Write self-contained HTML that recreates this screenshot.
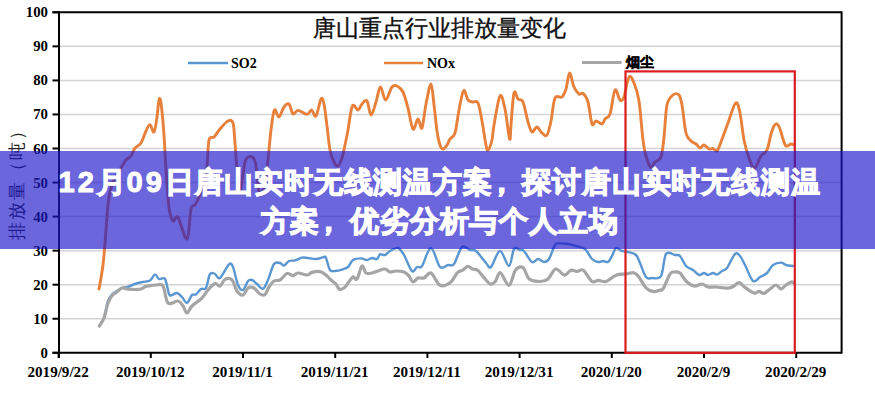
<!DOCTYPE html>
<html><head><meta charset="utf-8"><style>
html,body{margin:0;padding:0;width:875px;height:400px;overflow:hidden;background:#fff}
svg{position:absolute;left:0;top:0}
text{font-family:"Liberation Serif",serif;fill:#000}
.yl{font-size:14.8px;font-weight:bold;text-anchor:end;dominant-baseline:central}
.xl{font-size:15.1px;font-weight:bold;text-anchor:middle}
.title{font-size:23px;stroke:#111;stroke-width:0.35px;text-anchor:middle;dominant-baseline:central;fill:#111}
.ytitle{font-size:17.5px;stroke:#333;stroke-width:0px;letter-spacing:2px;text-anchor:middle;dominant-baseline:central;fill:#222}
.lg{font-size:14px;font-weight:bold;dominant-baseline:central}
.lgc{font-size:14px;stroke:#000;stroke-width:0.5px}
.banner{position:absolute;left:0;top:151px;width:875px;height:98px;background:rgba(30,23,202,0.66);display:flex;align-items:center;justify-content:center}
.banner div{font-family:"Liberation Sans",sans-serif;font-weight:bold;color:#fff;font-size:29px;line-height:38.8px;text-align:center;white-space:nowrap;width:875px;margin-left:4px;margin-top:3px;-webkit-text-stroke:1.2px #fff;letter-spacing:0.8px}
.banner .cm{position:relative;left:-6px}
.banner .d{-webkit-text-stroke:1.0px #fff;letter-spacing:3.0px}
</style></head><body>
<svg width="875" height="400" viewBox="0 0 875 400">
<line x1="60" y1="318.75" x2="841" y2="318.75" stroke="#d2d4d8" stroke-width="1.5"/>
<line x1="60" y1="284.70" x2="841" y2="284.70" stroke="#d2d4d8" stroke-width="1.5"/>
<line x1="60" y1="250.65" x2="841" y2="250.65" stroke="#d2d4d8" stroke-width="1.5"/>
<line x1="60" y1="216.60" x2="841" y2="216.60" stroke="#d2d4d8" stroke-width="1.5"/>
<line x1="60" y1="182.55" x2="841" y2="182.55" stroke="#d2d4d8" stroke-width="1.5"/>
<line x1="60" y1="148.50" x2="841" y2="148.50" stroke="#d2d4d8" stroke-width="1.5"/>
<line x1="60" y1="114.45" x2="841" y2="114.45" stroke="#d2d4d8" stroke-width="1.5"/>
<line x1="60" y1="80.40" x2="841" y2="80.40" stroke="#d2d4d8" stroke-width="1.5"/>
<line x1="60" y1="46.35" x2="841" y2="46.35" stroke="#d2d4d8" stroke-width="1.5"/>
<line x1="52.5" y1="352.80" x2="59" y2="352.80" stroke="#000" stroke-width="2"/>
<text x="48" y="352.80" class="yl">0</text>
<line x1="52.5" y1="318.75" x2="59" y2="318.75" stroke="#000" stroke-width="2"/>
<text x="48" y="318.75" class="yl">10</text>
<line x1="52.5" y1="284.70" x2="59" y2="284.70" stroke="#000" stroke-width="2"/>
<text x="48" y="284.70" class="yl">20</text>
<line x1="52.5" y1="250.65" x2="59" y2="250.65" stroke="#000" stroke-width="2"/>
<text x="48" y="250.65" class="yl">30</text>
<line x1="52.5" y1="216.60" x2="59" y2="216.60" stroke="#000" stroke-width="2"/>
<text x="48" y="216.60" class="yl">40</text>
<line x1="52.5" y1="182.55" x2="59" y2="182.55" stroke="#000" stroke-width="2"/>
<text x="48" y="182.55" class="yl">50</text>
<line x1="52.5" y1="148.50" x2="59" y2="148.50" stroke="#000" stroke-width="2"/>
<text x="48" y="148.50" class="yl">60</text>
<line x1="52.5" y1="114.45" x2="59" y2="114.45" stroke="#000" stroke-width="2"/>
<text x="48" y="114.45" class="yl">70</text>
<line x1="52.5" y1="80.40" x2="59" y2="80.40" stroke="#000" stroke-width="2"/>
<text x="48" y="80.40" class="yl">80</text>
<line x1="52.5" y1="46.35" x2="59" y2="46.35" stroke="#000" stroke-width="2"/>
<text x="48" y="46.35" class="yl">90</text>
<line x1="52.5" y1="12.30" x2="59" y2="12.30" stroke="#000" stroke-width="2"/>
<text x="48" y="12.30" class="yl">100</text>
<line x1="58.60" y1="352.8" x2="58.60" y2="358" stroke="#000" stroke-width="2"/>
<text x="58.10" y="377" class="xl">2019/9/22</text>
<line x1="150.80" y1="352.8" x2="150.80" y2="358" stroke="#000" stroke-width="2"/>
<text x="150.30" y="377" class="xl">2019/10/12</text>
<line x1="243.00" y1="352.8" x2="243.00" y2="358" stroke="#000" stroke-width="2"/>
<text x="242.50" y="377" class="xl">2019/11/1</text>
<line x1="335.20" y1="352.8" x2="335.20" y2="358" stroke="#000" stroke-width="2"/>
<text x="334.70" y="377" class="xl">2019/11/21</text>
<line x1="427.40" y1="352.8" x2="427.40" y2="358" stroke="#000" stroke-width="2"/>
<text x="426.90" y="377" class="xl">2019/12/11</text>
<line x1="519.60" y1="352.8" x2="519.60" y2="358" stroke="#000" stroke-width="2"/>
<text x="519.10" y="377" class="xl">2019/12/31</text>
<line x1="611.80" y1="352.8" x2="611.80" y2="358" stroke="#000" stroke-width="2"/>
<text x="611.30" y="377" class="xl">2020/1/20</text>
<line x1="704.00" y1="352.8" x2="704.00" y2="358" stroke="#000" stroke-width="2"/>
<text x="703.50" y="377" class="xl">2020/2/9</text>
<line x1="796.20" y1="352.8" x2="796.20" y2="358" stroke="#000" stroke-width="2"/>
<text x="795.70" y="377" class="xl">2020/2/29</text>
<path d="M52.5 12.30 H841.6 V352.80 H52.5" fill="none" stroke="#000" stroke-width="2"/>
<line x1="59" y1="11.30" x2="59" y2="358" stroke="#000" stroke-width="2"/>
<text x="439" y="28" class="title">唐山重点行业排放量变化</text>
<text transform="translate(16.5 180) rotate(-90)" class="ytitle">排放量（吨）</text>
<line x1="188" y1="63" x2="228" y2="63" stroke="#5a96d0" stroke-width="2.6"/>
<text x="231" y="63" class="lg">SO2</text>
<line x1="384" y1="63" x2="423" y2="63" stroke="#e6803a" stroke-width="2.5"/>
<text x="427" y="63" class="lg">NOx</text>
<line x1="582" y1="62.5" x2="621.5" y2="62.5" stroke="#a5a5a5" stroke-width="3.2"/>
<text x="626" y="62" class="lg lgc">烟尘</text>
<path d="M99.3 326.0 C100.1 324.7 102.5 322.2 104.0 318.0 C105.5 313.8 106.6 305.0 108.0 301.0 C109.4 297.0 111.0 295.7 112.5 294.0 C114.0 292.3 115.4 292.0 117.0 291.0 C118.6 290.0 120.2 288.7 122.0 288.0 C123.8 287.3 125.3 287.7 127.5 287.0 C129.7 286.3 132.5 284.8 135.0 284.0 C137.5 283.2 140.0 282.6 142.5 282.0 C145.0 281.4 147.9 281.8 150.0 280.5 C152.1 279.2 153.5 274.6 155.0 274.4 C156.5 274.1 157.3 278.2 159.0 279.0 C160.7 279.8 163.3 276.5 165.0 279.0 C166.7 281.5 167.8 291.3 169.0 294.0 C170.2 296.7 170.7 295.2 172.0 295.0 C173.3 294.8 175.3 292.7 177.0 293.0 C178.7 293.3 180.3 295.3 182.0 297.0 C183.7 298.7 185.3 303.3 187.0 303.0 C188.7 302.7 190.5 296.4 192.0 295.0 C193.5 293.6 194.5 295.4 196.0 294.4 C197.5 293.4 199.3 290.1 201.0 289.0 C202.7 287.9 204.5 290.5 206.0 288.0 C207.5 285.5 208.5 276.3 210.0 274.0 C211.5 271.7 213.3 273.3 215.0 274.0 C216.7 274.7 217.7 279.6 220.0 278.0 C222.3 276.4 226.8 266.2 229.0 264.4 C231.2 262.6 231.5 263.6 233.0 267.0 C234.5 270.4 236.3 281.2 238.0 285.0 C239.7 288.8 241.3 290.7 243.0 290.0 C244.7 289.3 246.5 282.7 248.0 281.0 C249.5 279.3 250.5 279.5 252.0 280.0 C253.5 280.5 255.5 282.7 257.0 284.0 C258.5 285.3 259.8 287.3 261.0 288.0 C262.2 288.7 262.8 289.3 264.0 288.0 C265.2 286.7 266.3 284.0 268.0 280.0 C269.7 276.0 272.0 266.8 274.0 264.0 C276.0 261.2 278.3 262.7 280.0 263.0 C281.7 263.3 282.5 265.9 284.0 265.6 C285.5 265.3 287.2 261.9 289.0 261.0 C290.8 260.1 292.8 261.0 295.0 260.4 C297.2 259.8 299.8 258.0 302.0 257.6 C304.2 257.2 305.7 257.8 308.0 258.0 C310.3 258.2 313.3 259.2 316.0 259.0 C318.7 258.8 322.3 257.2 324.0 257.0 C325.7 256.8 325.0 255.8 326.0 258.0 C327.0 260.2 328.5 267.8 330.0 270.0 C331.5 272.2 333.0 271.1 335.0 271.0 C337.0 270.9 339.8 270.3 342.0 269.6 C344.2 268.9 346.2 268.6 348.0 267.0 C349.8 265.4 350.8 261.4 353.0 260.0 C355.2 258.6 358.7 258.4 361.0 258.4 C363.3 258.4 365.2 260.1 367.0 260.0 C368.8 259.9 370.3 258.2 372.0 258.0 C373.7 257.8 375.7 259.6 377.0 259.0 C378.3 258.4 378.7 255.1 380.0 254.4 C381.3 253.7 383.3 255.6 385.0 255.0 C386.7 254.4 387.8 252.2 390.0 251.0 C392.2 249.8 395.7 247.3 398.0 248.0 C400.3 248.7 401.7 251.2 404.0 255.0 C406.3 258.8 409.8 269.0 412.0 271.0 C414.2 273.0 415.3 267.8 417.0 267.0 C418.7 266.2 419.7 269.2 422.0 266.0 C424.3 262.8 428.0 247.8 431.0 248.0 C434.0 248.2 437.2 264.2 440.0 267.0 C442.8 269.8 445.7 265.5 448.0 265.0 C450.3 264.5 451.7 267.0 454.0 264.0 C456.3 261.0 459.3 249.3 462.0 247.0 C464.7 244.7 467.7 249.3 470.0 250.0 C472.3 250.7 473.3 248.8 476.0 251.0 C478.7 253.2 483.5 260.3 486.0 263.0 C488.5 265.7 488.7 269.0 491.0 267.0 C493.3 265.0 497.0 251.2 500.0 251.0 C503.0 250.8 506.7 266.3 509.0 266.0 C511.3 265.7 512.2 251.7 514.0 249.0 C515.8 246.3 518.3 249.7 520.0 250.0 C521.7 250.3 522.0 249.0 524.0 251.0 C526.0 253.0 529.7 260.7 532.0 262.0 C534.3 263.3 536.0 259.0 538.0 259.0 C540.0 259.0 542.2 262.0 544.0 262.0 C545.8 262.0 547.2 261.8 549.0 259.0 C550.8 256.2 553.3 247.6 555.0 245.0 C556.7 242.4 556.8 243.6 559.0 243.4 C561.2 243.2 565.2 243.6 568.0 244.0 C570.8 244.4 573.2 245.2 576.0 246.0 C578.8 246.8 582.3 246.8 585.0 249.0 C587.7 251.2 589.8 256.8 592.0 259.0 C594.2 261.2 596.2 261.7 598.0 262.0 C599.8 262.3 601.3 261.0 603.0 261.0 C604.7 261.0 606.5 262.8 608.0 262.0 C609.5 261.2 610.7 258.3 612.0 256.0 C613.3 253.7 614.5 248.9 616.0 248.0 C617.5 247.1 619.0 249.9 621.0 250.6 C623.0 251.3 625.5 251.3 628.0 252.0 C630.5 252.7 634.0 253.2 636.0 255.0 C638.0 256.8 638.3 259.3 640.0 263.0 C641.7 266.7 644.0 274.5 646.0 277.0 C648.0 279.5 649.5 278.2 652.0 278.0 C654.5 277.8 658.7 280.0 661.0 276.0 C663.3 272.0 663.7 257.5 666.0 254.0 C668.3 250.5 672.7 254.7 675.0 255.0 C677.3 255.3 678.2 254.2 680.0 256.0 C681.8 257.8 683.8 263.7 686.0 266.0 C688.2 268.3 690.8 268.5 693.0 270.0 C695.2 271.5 697.2 274.5 699.0 275.0 C700.8 275.5 702.5 273.0 704.0 273.0 C705.5 273.0 706.5 275.0 708.0 275.0 C709.5 275.0 711.5 273.1 713.0 273.0 C714.5 272.9 715.5 274.9 717.0 274.6 C718.5 274.3 720.3 272.1 722.0 271.0 C723.7 269.9 724.8 270.8 727.0 268.0 C729.2 265.2 732.8 256.0 735.0 254.0 C737.2 252.0 738.3 254.2 740.0 256.0 C741.7 257.8 742.8 260.8 745.0 265.0 C747.2 269.2 750.5 279.0 753.0 281.0 C755.5 283.0 757.7 278.3 760.0 277.0 C762.3 275.7 764.8 275.0 767.0 273.0 C769.2 271.0 770.7 266.7 773.0 265.0 C775.3 263.3 778.8 262.6 781.0 262.6 C783.2 262.6 784.0 264.4 786.0 265.0 C788.0 265.6 791.8 265.8 793.0 266.0" fill="none" stroke="#5a96d0" stroke-width="2.4" stroke-linejoin="round" stroke-linecap="round"/>
<path d="M99.0 289.0 C99.7 285.0 101.8 274.8 103.0 265.0 C104.2 255.2 105.2 240.0 106.0 230.0 C106.8 220.0 107.2 212.0 108.0 205.0 C108.8 198.0 109.7 192.8 111.0 188.0 C112.3 183.2 114.3 179.3 116.0 176.0 C117.7 172.7 119.3 170.7 121.0 168.0 C122.7 165.3 124.3 162.0 126.0 160.0 C127.7 158.0 129.5 158.0 131.0 156.0 C132.5 154.0 133.3 150.2 135.0 148.0 C136.7 145.8 139.2 145.8 141.0 143.0 C142.8 140.2 144.5 134.1 146.0 131.0 C147.5 127.9 148.7 124.4 150.0 124.6 C151.3 124.8 152.8 133.3 154.0 132.0 C155.2 130.7 156.2 122.3 157.0 117.0 C157.8 111.7 158.3 102.3 159.0 100.0 C159.7 97.7 160.2 97.2 161.0 103.0 C161.8 108.8 163.2 123.8 164.0 135.0 C164.8 146.2 165.3 159.7 166.0 170.0 C166.7 180.3 167.4 190.2 168.0 197.0 C168.6 203.8 168.7 207.0 169.5 211.0 C170.3 215.0 171.6 219.9 173.0 221.0 C174.4 222.1 175.7 214.5 178.0 217.5 C180.3 220.5 184.8 240.4 187.0 239.0 C189.2 237.6 189.7 214.7 191.0 209.0 C192.3 203.3 193.7 207.0 195.0 205.0 C196.3 203.0 197.5 201.0 199.0 197.0 C200.5 193.0 202.7 186.0 204.0 181.0 C205.3 176.0 206.2 173.8 207.0 167.0 C207.8 160.2 207.8 145.0 209.0 140.0 C210.2 135.0 212.2 138.8 214.0 137.0 C215.8 135.2 217.7 131.7 220.0 129.0 C222.3 126.3 225.8 122.0 228.0 121.0 C230.2 120.0 231.8 119.3 233.0 123.0 C234.2 126.7 234.3 135.2 235.0 143.0 C235.7 150.8 236.2 161.7 237.0 170.0 C237.8 178.3 238.7 194.3 240.0 193.0 C241.3 191.7 243.2 168.1 245.0 162.0 C246.8 155.9 249.2 156.3 251.0 156.5 C252.8 156.7 254.2 157.4 255.5 163.0 C256.8 168.6 257.7 184.7 258.6 190.0 C259.5 195.3 259.9 196.5 261.0 195.0 C262.1 193.5 263.8 186.8 265.0 181.0 C266.2 175.2 267.0 168.5 268.0 160.0 C269.0 151.5 269.9 138.3 271.0 130.0 C272.1 121.7 273.1 112.2 274.4 110.0 C275.7 107.8 277.4 117.5 279.0 117.0 C280.6 116.5 282.3 109.2 284.0 107.0 C285.7 104.8 287.5 102.8 289.0 104.0 C290.5 105.2 291.5 112.9 293.0 114.0 C294.5 115.1 295.7 110.3 298.0 110.4 C300.3 110.5 304.7 114.5 307.0 114.4 C309.3 114.3 310.1 109.7 311.6 110.0 C313.1 110.3 314.4 117.8 316.0 116.0 C317.6 114.2 319.7 101.0 321.0 99.0 C322.3 97.0 323.0 99.5 324.0 104.0 C325.0 108.5 326.0 118.3 327.0 126.0 C328.0 133.7 328.8 144.0 330.0 150.0 C331.2 156.0 332.7 159.3 334.0 162.0 C335.3 164.7 336.7 166.7 338.0 166.0 C339.3 165.3 340.8 161.5 342.0 158.0 C343.2 154.5 344.0 149.7 345.0 145.0 C346.0 140.3 346.8 136.5 348.0 130.0 C349.2 123.5 350.7 109.3 352.4 106.0 C354.1 102.7 356.4 110.3 358.0 110.0 C359.6 109.7 360.5 105.5 362.0 104.0 C363.5 102.5 365.5 99.2 367.0 101.0 C368.5 102.8 369.5 114.8 371.0 115.0 C372.5 115.2 374.4 106.7 376.0 102.0 C377.6 97.3 378.8 87.3 380.4 87.0 C382.0 86.7 383.7 100.0 385.6 100.0 C387.5 100.0 390.1 89.3 392.0 87.0 C393.9 84.7 395.2 85.2 397.0 86.0 C398.8 86.8 401.2 88.3 403.0 92.0 C404.8 95.7 406.3 101.8 408.0 108.0 C409.7 114.2 411.3 127.2 413.0 129.0 C414.7 130.8 416.5 119.2 418.0 119.0 C419.5 118.8 420.7 130.5 422.0 128.0 C423.3 125.5 424.5 111.3 426.0 104.0 C427.5 96.7 429.7 83.8 431.0 84.0 C432.3 84.2 433.0 97.2 434.0 105.0 C435.0 112.8 436.0 124.3 437.0 131.0 C438.0 137.7 439.0 142.0 440.0 145.0 C441.0 148.0 441.8 149.0 443.0 149.0 C444.2 149.0 445.8 146.7 447.0 145.0 C448.2 143.3 448.7 141.0 450.0 139.0 C451.3 137.0 453.5 137.8 455.0 133.0 C456.5 128.2 457.6 117.1 459.0 110.0 C460.4 102.9 462.1 92.3 463.6 90.6 C465.1 88.9 466.4 98.1 468.0 100.0 C469.6 101.9 471.3 101.5 473.0 102.0 C474.7 102.5 476.5 99.8 478.0 103.0 C479.5 106.2 480.7 114.0 482.0 121.0 C483.3 128.0 485.0 140.2 486.0 145.0 C487.0 149.8 487.0 150.8 488.0 150.0 C489.0 149.2 491.0 144.2 492.0 140.0 C493.0 135.8 492.7 132.3 494.0 125.0 C495.3 117.7 498.2 98.7 500.0 96.0 C501.8 93.3 503.4 101.8 505.0 109.0 C506.6 116.2 508.6 136.3 509.6 139.0 C510.6 141.7 510.3 132.7 511.0 125.0 C511.7 117.3 512.8 97.3 514.0 93.0 C515.2 88.7 516.5 97.5 518.0 99.0 C519.5 100.5 521.3 98.2 523.0 102.0 C524.7 105.8 526.5 117.0 528.0 122.0 C529.5 127.0 530.5 131.2 532.0 132.0 C533.5 132.8 535.3 126.8 537.0 127.0 C538.7 127.2 540.3 131.7 542.0 133.0 C543.7 134.3 545.5 137.0 547.0 135.0 C548.5 133.0 549.7 127.2 551.0 121.0 C552.3 114.8 553.2 102.0 555.0 98.0 C556.8 94.0 560.2 98.5 562.0 97.0 C563.8 95.5 564.7 93.0 566.0 89.0 C567.3 85.0 568.3 73.3 569.6 73.0 C570.9 72.7 572.4 83.5 574.0 87.0 C575.6 90.5 577.5 92.9 579.0 94.0 C580.5 95.1 581.5 92.1 583.0 93.4 C584.5 94.7 586.5 96.9 588.0 102.0 C589.5 107.1 590.7 120.8 592.0 124.0 C593.3 127.2 594.3 121.0 596.0 121.0 C597.7 121.0 600.5 124.3 602.0 124.0 C603.5 123.7 603.7 120.7 605.0 119.0 C606.3 117.3 608.3 118.8 610.0 114.0 C611.7 109.2 613.3 92.3 615.0 90.0 C616.7 87.7 618.5 98.8 620.0 100.0 C621.5 101.2 622.5 100.8 624.0 97.0 C625.5 93.2 627.3 79.3 629.0 77.0 C630.7 74.7 632.3 79.0 634.0 83.0 C635.7 87.0 637.5 91.5 639.0 101.0 C640.5 110.5 641.8 130.8 643.0 140.0 C644.2 149.2 644.7 151.4 646.0 156.0 C647.3 160.6 649.5 166.5 651.0 167.5 C652.5 168.5 653.3 163.8 655.0 162.0 C656.7 160.2 659.5 161.2 661.0 157.0 C662.5 152.8 663.0 145.7 664.0 137.0 C665.0 128.3 665.5 112.0 667.0 105.0 C668.5 98.0 671.0 96.7 673.0 95.0 C675.0 93.3 677.5 93.3 679.0 95.0 C680.5 96.7 680.8 98.7 682.0 105.0 C683.2 111.3 684.5 127.0 686.0 133.0 C687.5 139.0 689.3 139.2 691.0 141.0 C692.7 142.8 694.5 142.8 696.0 144.0 C697.5 145.2 698.7 147.8 700.0 148.0 C701.3 148.2 702.5 144.8 704.0 145.0 C705.5 145.2 707.5 148.4 709.0 149.0 C710.5 149.6 711.7 148.3 713.0 148.6 C714.3 148.9 715.7 152.1 717.0 151.0 C718.3 149.9 719.2 146.7 721.0 142.0 C722.8 137.3 725.6 129.5 728.0 123.0 C730.4 116.5 733.6 104.7 735.6 103.0 C737.6 101.3 738.6 106.8 740.0 113.0 C741.4 119.2 742.5 132.5 744.0 140.0 C745.5 147.5 747.2 153.3 749.0 158.0 C750.8 162.7 752.5 168.3 754.5 168.0 C756.5 167.7 758.9 159.0 761.0 156.0 C763.1 153.0 765.3 153.7 767.0 150.0 C768.7 146.3 769.8 138.0 771.0 134.0 C772.2 130.0 773.0 127.7 774.0 126.0 C775.0 124.3 776.0 123.5 777.0 124.0 C778.0 124.5 779.0 126.5 780.0 129.0 C781.0 131.5 782.0 136.2 783.0 139.0 C784.0 141.8 784.7 145.2 786.0 146.0 C787.3 146.8 789.7 144.2 791.0 144.0 C792.3 143.8 793.5 144.8 794.0 145.0" fill="none" stroke="#e6803a" stroke-width="2.9" stroke-linejoin="round" stroke-linecap="round"/>
<path d="M99.3 326.0 C100.1 324.7 102.5 321.8 104.0 318.0 C105.5 314.2 106.6 306.8 108.0 303.0 C109.4 299.2 111.0 296.8 112.5 295.0 C114.0 293.2 115.4 293.2 117.0 292.0 C118.6 290.8 120.2 288.5 122.0 288.0 C123.8 287.5 125.3 288.8 127.5 289.0 C129.7 289.2 132.8 289.5 135.0 289.5 C137.2 289.5 139.2 289.5 141.0 289.0 C142.8 288.5 144.0 287.1 145.5 286.5 C147.0 285.9 148.2 285.9 150.0 285.7 C151.8 285.4 153.8 284.9 156.0 285.0 C158.2 285.1 161.0 283.0 163.0 286.0 C165.0 289.0 165.5 300.5 168.0 303.0 C170.5 305.5 175.5 300.5 178.0 301.0 C180.5 301.5 181.5 304.0 183.0 306.0 C184.5 308.0 185.5 313.0 187.0 313.0 C188.5 313.0 189.5 308.5 192.0 306.0 C194.5 303.5 199.3 300.7 202.0 298.0 C204.7 295.3 205.8 292.4 208.0 290.0 C210.2 287.6 213.0 284.3 215.0 283.6 C217.0 282.9 218.3 286.7 220.0 286.0 C221.7 285.3 223.0 280.4 225.0 279.4 C227.0 278.4 230.0 278.1 232.0 280.0 C234.0 281.9 235.2 288.5 237.0 291.0 C238.8 293.5 241.2 295.5 243.0 295.0 C244.8 294.5 246.2 289.2 248.0 288.0 C249.8 286.8 252.0 287.0 254.0 288.0 C256.0 289.0 258.2 292.9 260.0 294.0 C261.8 295.1 263.5 295.7 265.0 294.5 C266.5 293.3 267.5 289.2 269.0 287.0 C270.5 284.8 272.2 282.2 274.0 281.0 C275.8 279.8 277.8 281.2 280.0 280.0 C282.2 278.8 284.8 274.3 287.0 273.6 C289.2 272.9 291.2 275.7 293.0 275.6 C294.8 275.5 295.7 273.1 298.0 273.0 C300.3 272.9 304.7 275.1 307.0 275.0 C309.3 274.9 309.8 273.0 312.0 272.4 C314.2 271.8 317.7 271.2 320.0 271.6 C322.3 272.0 324.2 273.6 326.0 275.0 C327.8 276.4 329.3 278.5 331.0 280.0 C332.7 281.5 334.7 282.5 336.0 284.0 C337.3 285.5 337.7 288.3 339.0 289.0 C340.3 289.7 342.5 289.0 344.0 288.0 C345.5 287.0 346.5 284.8 348.0 283.0 C349.5 281.2 351.5 277.7 353.0 277.0 C354.5 276.3 355.5 280.8 357.0 279.0 C358.5 277.2 360.5 267.0 362.0 266.0 C363.5 265.0 364.3 271.8 366.0 273.0 C367.7 274.2 370.0 273.3 372.0 273.0 C374.0 272.7 375.8 271.7 378.0 271.0 C380.2 270.3 383.0 268.8 385.0 269.0 C387.0 269.2 388.2 271.7 390.0 272.0 C391.8 272.3 393.7 271.0 396.0 271.0 C398.3 271.0 401.8 271.2 404.0 272.0 C406.2 272.8 407.5 274.3 409.0 276.0 C410.5 277.7 411.5 281.7 413.0 282.0 C414.5 282.3 416.2 278.7 418.0 278.0 C419.8 277.3 421.8 278.8 424.0 278.0 C426.2 277.2 428.3 271.8 431.0 273.0 C433.7 274.2 436.8 283.7 440.0 285.3 C443.2 286.9 447.1 284.9 450.0 282.8 C452.9 280.7 455.5 274.8 457.6 272.7 C459.7 270.6 460.9 271.2 462.6 270.2 C464.3 269.1 466.0 266.6 467.7 266.4 C469.4 266.2 471.0 268.4 472.7 269.0 C474.4 269.6 475.8 268.8 477.7 270.2 C479.6 271.6 481.9 275.4 484.0 277.7 C486.1 280.0 488.4 283.4 490.3 284.0 C492.2 284.6 493.6 283.4 495.3 281.5 C497.0 279.6 498.0 272.1 500.3 272.7 C502.6 273.3 506.5 285.7 509.0 285.3 C511.5 284.9 513.1 273.1 515.4 270.2 C517.7 267.3 520.7 266.2 523.0 267.7 C525.3 269.2 526.4 276.7 529.3 279.0 C532.2 281.3 537.5 281.5 540.6 281.5 C543.7 281.5 545.5 281.1 548.0 279.0 C550.5 276.9 553.0 269.6 555.7 269.0 C558.5 268.4 562.0 275.0 564.5 275.2 C567.0 275.4 568.7 270.8 570.8 270.2 C572.9 269.6 574.9 271.5 577.0 271.5 C579.1 271.5 580.8 268.5 583.3 270.2 C585.8 271.9 589.5 279.8 592.0 281.5 C594.5 283.2 596.1 280.3 598.4 280.3 C600.7 280.3 603.1 282.4 606.0 281.5 C608.9 280.6 612.7 276.4 616.0 275.2 C619.3 273.9 623.1 274.4 626.0 274.0 C628.9 273.6 631.5 272.3 633.6 272.7 C635.7 273.1 636.5 274.0 638.6 276.5 C640.7 279.0 643.5 285.3 646.0 287.8 C648.5 290.3 651.4 291.2 653.7 291.6 C656.0 292.0 658.5 290.4 660.0 290.0 C661.5 289.6 661.3 291.7 663.0 289.0 C664.7 286.3 668.2 276.8 670.0 274.0 C671.8 271.2 672.3 272.2 674.0 272.0 C675.7 271.8 678.0 271.5 680.0 273.0 C682.0 274.5 683.7 278.8 686.0 281.0 C688.3 283.2 691.3 285.5 694.0 286.0 C696.7 286.5 699.7 283.8 702.0 284.0 C704.3 284.2 705.7 286.5 708.0 287.0 C710.3 287.5 713.2 286.8 716.0 287.0 C718.8 287.2 722.8 287.8 725.0 288.0 C727.2 288.2 727.5 288.3 729.0 288.0 C730.5 287.7 732.3 286.9 734.0 286.0 C735.7 285.1 737.2 282.4 739.0 282.6 C740.8 282.8 742.5 285.7 745.0 287.4 C747.5 289.1 751.7 292.3 754.0 293.0 C756.3 293.7 757.3 291.3 759.0 291.4 C760.7 291.5 762.2 293.8 764.0 293.4 C765.8 293.0 768.0 290.4 770.0 289.0 C772.0 287.6 774.2 285.0 776.0 285.0 C777.8 285.0 779.3 289.0 781.0 289.0 C782.7 289.0 784.3 286.2 786.0 285.0 C787.7 283.8 789.7 282.3 791.0 282.0 C792.3 281.7 793.5 282.8 794.0 283.0" fill="none" stroke="#a5a5a5" stroke-width="3.2" stroke-linejoin="round" stroke-linecap="round"/>
<rect x="625.5" y="71.4" width="169.3" height="281.4" fill="none" stroke="#da1b1f" stroke-width="2.2"/>
</svg>
<div class="banner"><div><span class="d">12</span>月<span class="d">09</span>日唐山实时无线测温方案<span class="cm">，</span>探讨唐山实时无线测温<br>方案<span class="cm">，</span>优劣分析与个人立场</div></div>
</body></html>
